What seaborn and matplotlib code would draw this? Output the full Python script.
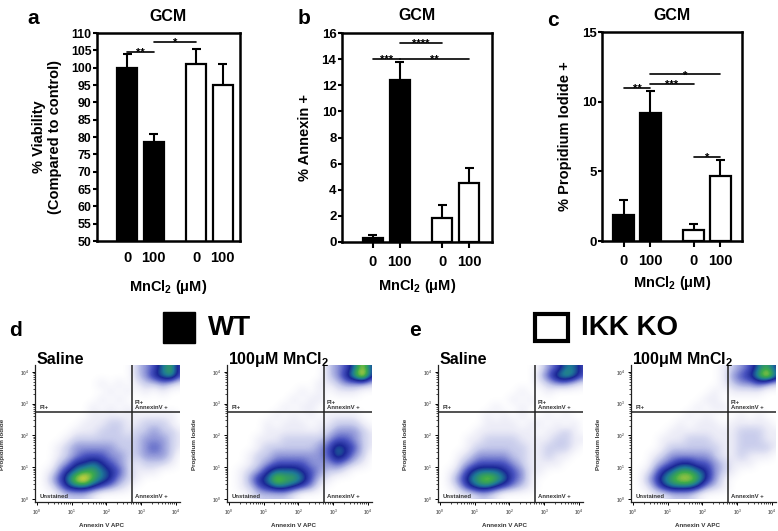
import numpy as np
import matplotlib
matplotlib.use("Agg")
import matplotlib.pyplot as plt
from matplotlib.colors import LinearSegmentedColormap
from matplotlib.patches import Rectangle
import seaborn as sns

# ---- bar chart data ----
dose_labels = ["0", "100", "0", "100"]
genotype = ["WT", "WT", "IKK KO", "IKK KO"]
bar_pos = [0, 1, 2.6, 3.6]

viability = [100, 78.5, 101, 95]
viability_err = [4, 2.5, 4.5, 6.2]
annexin = [0.3, 12.4, 1.85, 4.5]
annexin_err = [0.2, 1.4, 0.95, 1.2]
pi_pos = [1.85, 9.2, 0.8, 4.7]
pi_err = [1.1, 1.6, 0.45, 1.1]

# significance bars: (from bar, to bar, height, stars)
sig_a = [(0, 1, 104.6, "**"), (1, 2, 107.3, "*")]
sig_b = [(0, 1, 14.0, "***"), (1, 3, 14.0, "**"), (1, 2, 15.2, "****")]
sig_c = [(0, 1, 11.0, "**"), (1, 2, 11.3, "***"), (1, 3, 11.95, "*"), (2, 3, 6.05, "*")]

# ---- flow cytometry densities (0 = empty ... 9 = densest), 0.25-decade cells
# columns: Annexin V 10^0 -> 10^4.25, rows: PI 10^4.25 (top) -> 10^0 (bottom)
wt_saline = [
    "00000000000234674",
    "00000000000235674",
    "00000001010122321",
    "00000000101010100",
    "00000001010000000",
    "00000010101000000",
    "00000011111111110",
    "00000111221122210",
    "00001112221223221",
    "00012222222233321",
    "00123333322234321",
    "00123444332233320",
    "00235565432122210",
    "01356776542111000",
    "02468976532100000",
    "01356654321000000",
    "00122210000000000",
]
wt_mn = [
    "00000000000234685",
    "00000000000235795",
    "00000000001123332",
    "00000000101011100",
    "00000001011000000",
    "00000010110000000",
    "00000101010111100",
    "00001011101122210",
    "00001111111233321",
    "00011122222344321",
    "00012222223465421",
    "00122333333465320",
    "00123444433343210",
    "01235666543221000",
    "01356877642100000",
    "01245665431000000",
    "00122221000000000",
]
ko_saline = [
    "00000000000134664",
    "00000000000246764",
    "00000000000123321",
    "00000000010010000",
    "00000000101000000",
    "00000010010000000",
    "00000101010010100",
    "00000111101101010",
    "00001111111011210",
    "00011222211112211",
    "00012222221122210",
    "00123333221121100",
    "00234444321111000",
    "01356665431100000",
    "02467876431000000",
    "01356654321000000",
    "00112210000000000",
]
ko_mn = [
    "00000000001234675",
    "00000000001345796",
    "00000000001233432",
    "00000000010111100",
    "00000000110000000",
    "00000001011000000",
    "00000010100010100",
    "00000101110111110",
    "00001111111122211",
    "00011122211122211",
    "00012222221122221",
    "00123333321121110",
    "00234554432111000",
    "01356776532100000",
    "02467887531000000",
    "01356665321000000",
    "00112221000000000",
]
gate_x = 2.73
gate_y = 2.74

sns.set_style("ticks")
plt.rcParams["font.family"] = ["Liberation Sans", "DejaVu Sans"]
plt.rcParams["font.weight"] = "bold"
plt.rcParams["axes.labelweight"] = "bold"
plt.rcParams["text.color"] = "black"
plt.rcParams["axes.labelcolor"] = "black"
plt.rcParams["xtick.color"] = "black"
plt.rcParams["ytick.color"] = "black"
plt.rcParams["mathtext.fontset"] = "custom"
plt.rcParams["mathtext.rm"] = "Liberation Sans"
plt.rcParams["mathtext.bf"] = "Liberation Sans:bold"

W, H = 778, 531
fig = plt.figure(figsize=(W / 100, H / 100), dpi=100)


def px_axes(x0, y0, x1, y1):
    return fig.add_axes([x0 / W, 1 - y1 / H, (x1 - x0) / W, (y1 - y0) / H])


xlabel_txt = "MnCl$_{\\mathbf{2}}$ (\u03bcM)"


def bar_panel(ax, values, errors, sig, ylim, yticks, ylabel, xlim, xtick_len, ylabelpad, xlabelpad):
    sns.barplot(x=bar_pos, y=values, hue=genotype, hue_order=["WT", "IKK KO"],
                palette={"WT": "black", "IKK KO": "white"}, edgecolor="black",
                linewidth=1.6, width=0.75, native_scale=True, legend=False,
                errorbar=None, ax=ax)
    pos = np.array(bar_pos)
    top = np.array(values) + np.array(errors)
    ax.vlines(pos, values, top, color="black", lw=1.5, zorder=4)
    ax.hlines(top, pos - 0.17, pos + 0.17, color="black", lw=1.5, zorder=4)
    for i, j, h, stars in sig:
        ax.plot([bar_pos[i], bar_pos[j]], [h, h], color="black", lw=1.2, zorder=4)
        ax.annotate(stars, ((bar_pos[i] + bar_pos[j]) / 2, h), xytext=(0, -2.8),
                    textcoords="offset points", ha="center", va="baseline",
                    fontsize=8, fontweight="bold")
    ax.set_xlim(*xlim)
    ax.set_ylim(*ylim)
    ax.set_yticks(yticks)
    ax.set_yticklabels([str(t) for t in yticks], fontsize=9.5, fontweight="bold")
    ax.set_xticks(bar_pos)
    ax.set_xticklabels(dose_labels, fontsize=10.5, fontweight="bold")
    ax.set_ylabel(ylabel, fontsize=10.5, fontweight="bold", labelpad=ylabelpad)
    ax.set_xlabel(xlabel_txt, fontsize=10.5, fontweight="bold", labelpad=xlabelpad)
    ax.tick_params(axis="y", direction="out", length=3, width=1.5, pad=1)
    ax.tick_params(axis="x", direction="out", length=xtick_len, width=1.5, pad=5 + (4 - xtick_len) * 0.6)
    for s in ax.spines.values():
        s.set_visible(True)
        s.set_linewidth(1.8)
        s.set_color("black")
    ax.set_title("GCM", fontsize=11.5, fontweight="bold", pad=9)


ax_a = px_axes(97, 33, 240, 241)
bar_panel(ax_a, viability, viability_err, sig_a, (50, 110), list(range(50, 111, 5)),
          "% Viability\n(Compared to control)", (-1.13, 4.25), 0, 6, 9)
ax_a.set_yticklabels([str(t) for t in range(50, 111, 5)], fontsize=8.8, fontweight="bold")

ax_b = px_axes(342, 33, 492, 242)
bar_panel(ax_b, annexin, annexin_err, sig_b, (0, 16), list(range(0, 17, 2)),
          "% Annexin +", (-1.15, 4.45), 4, 7, 6)

ax_c = px_axes(602, 32, 742, 241)
bar_panel(ax_c, pi_pos, pi_err, sig_c, (0, 15), [0, 5, 10, 15],
          "% Propidium Iodide +", (-0.8, 4.4), 4, 7, 4.5)

for letter, x, y in [("a", 33, 18), ("b", 304, 18), ("c", 553, 20), ("d", 15, 330), ("e", 415, 331)]:
    fig.text(x / W, 1 - y / H, letter, fontsize=15, fontweight="bold", ha="center", va="center")

# legend squares
fig.patches.append(Rectangle((163 / W, 1 - 343 / H), 32 / W, 31 / H, transform=fig.transFigure,
                             facecolor="black", edgecolor="black"))
fig.text(208 / W, 1 - 328 / H, "WT", fontsize=20, fontweight="bold", va="center")
fig.patches.append(Rectangle((535 / W, 1 - 341 / H), 33 / W, 27 / H, transform=fig.transFigure,
                             facecolor="white", edgecolor="black", linewidth=3))
fig.text(581 / W, 1 - 328 / H, "IKK KO", fontsize=20, fontweight="bold", va="center")

flow_cmap = LinearSegmentedColormap.from_list(
    "flow", ["white", "#ececf7", "#c9cdec", "#8f96d8", "#4852bf", "#1b2897",
             "#1e7a96", "#3dab4b", "#cfd43c", "#e0522b"])


def flow_panel(ax, rows, title):
    grid = np.array([[int(ch) for ch in row] for row in rows])
    ax.imshow(grid, extent=(0, 4.25, 0, 4.25), origin="upper", aspect="auto",
              cmap=flow_cmap, vmin=0, vmax=9, interpolation="bicubic")
    ax.set_xlim(-0.06, 4.12)
    ax.set_ylim(-0.1, 4.22)
    ax.axvline(gate_x, color="#222222", lw=1.1)
    ax.axhline(gate_y, color="#222222", lw=1.1)
    major = np.arange(5)
    minor = [n + np.log10(k) for n in range(4) for k in range(2, 10)]
    labels = ["$\\mathregular{10^{%d}}$" % k for k in major]
    for axis in (ax.xaxis, ax.yaxis):
        axis.set_ticks(major)
        axis.set_ticklabels(labels)
        axis.set_ticks(minor, minor=True)
    ax.tick_params(which="major", length=2.5, width=0.7, labelsize=3.5, labelcolor="#666666", pad=1.5)
    ax.tick_params(which="minor", length=1.3, width=0.5)
    for side in ("top", "right"):
        ax.spines[side].set_visible(False)
    for side in ("left", "bottom"):
        ax.spines[side].set_linewidth(0.9)
        ax.spines[side].set_color("#222222")
    ax.set_xlabel("Annexin V APC", fontsize=4.5, fontweight="bold", color="#333333")
    ax.set_ylabel("Propidium Iodide", fontsize=4.5, fontweight="bold", color="#333333")
    ax.xaxis.set_label_coords(0.46, -0.15)
    ax.yaxis.set_label_coords(-0.205, 0.42)
    q = dict(fontsize=4.3, fontweight="bold", color="#333333")
    ax.text(0.08, gate_y + 0.06, "PI+", va="bottom", **q)
    ax.text(gate_x + 0.08, gate_y + 0.06, "PI+\nAnnexinV +", va="bottom", linespacing=1.0, **q)
    ax.text(0.08, 0.0, "Unstained", va="bottom", **q)
    ax.text(gate_x + 0.08, 0.0, "AnnexinV +", va="bottom", **q)
    ax.text(0.01, 1.005, title, transform=ax.transAxes, fontsize=11.5,
            fontweight="bold", va="baseline", ha="left")


flow_titles = ["Saline", "100\u03bcM MnCl$_{\\mathbf{2}}$"]
for left, rows, title in [(35, wt_saline, flow_titles[0]), (227, wt_mn, flow_titles[1]),
                          (438, ko_saline, flow_titles[0]), (631, ko_mn, flow_titles[1])]:
    ax = px_axes(left, 365, left + 145, 502)
    flow_panel(ax, rows, title)

fig.savefig("out.png", dpi=100)
